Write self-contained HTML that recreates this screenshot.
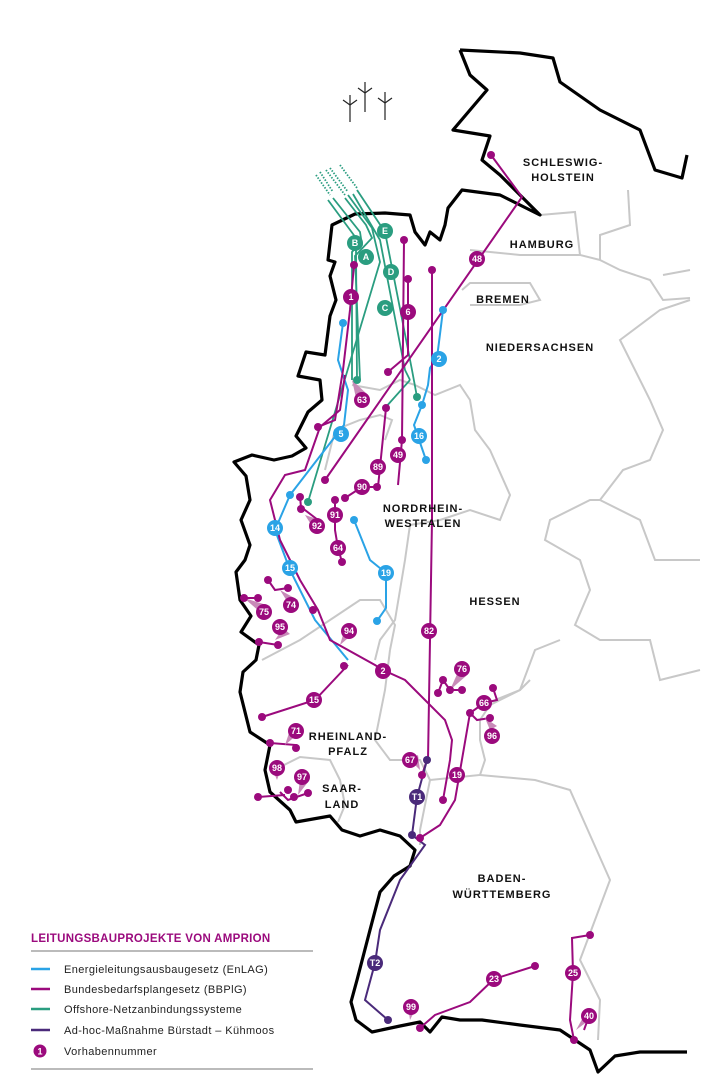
<!DOCTYPE html>
<html><head><meta charset="utf-8"><style>
html,body{margin:0;padding:0;background:#fff;width:713px;height:1090px;overflow:hidden}
svg{display:block}
.st{font:bold 11px "Liberation Sans",sans-serif;fill:#111;letter-spacing:1px;text-anchor:middle}
.b text{font:bold 9px "Liberation Sans",sans-serif;fill:#fff;text-anchor:middle}
.lg{font:11px "Liberation Sans",sans-serif;fill:#222;letter-spacing:0.4px}
</style></head><body>
<svg width="713" height="1090" viewBox="0 0 713 1090" xmlns="http://www.w3.org/2000/svg">
<!-- inner state borders -->
<g fill="none" stroke="#c8c8c8" stroke-width="2">
<polyline points="540,215 575,212 580,255 600,260 600,235 630,225 628,190"/>
<polyline points="470,250 520,255 580,255"/>
<polyline points="462,290 470,283 530,283 540,300 520,305 470,305"/>
<polyline points="600,260 620,270 650,280 663,300 690,298"/>
<polyline points="663,275 690,270"/>
<polyline points="690,300 660,310 620,340 650,400 663,430 650,460 623,470 600,500 590,500 550,520 545,540 580,560 590,590 575,625 600,640 650,640 660,680 700,670"/>
<polyline points="352,385 380,390 400,380 415,385 435,395 460,385 470,400 475,430 490,450 510,495 500,520 470,510 440,520 410,525 405,560 395,620 380,640 375,660"/>
<polyline points="600,500 640,520 655,560 700,560"/>
<polyline points="560,640 535,650 520,690 495,700"/>
<polyline points="325,470 335,430 360,420 380,415 392,420 385,440"/>
<polyline points="262,660 300,640 330,620 360,600 380,600 395,625 390,650"/>
<polyline points="390,650 385,690 380,715 375,740 390,760 420,760 430,780"/>
<polyline points="278,768 300,757 330,760 340,780 345,805 338,822"/>
<polyline points="430,780 480,775 485,760 480,740 480,720 490,705 520,690 530,680"/>
<polyline points="480,775 535,780 570,790 610,880 580,960 590,980 600,1000 598,1040"/>
<polyline points="430,780 420,830 420,845"/>
</g>
<!-- national border -->
<polyline fill="none" stroke="#000" stroke-width="3.2" stroke-linejoin="round" points="460,50 520,53 553,58 560,82 600,110 640,130 655,170 682,178 687,155"/>
<polyline fill="none" stroke="#000" stroke-width="3.2" stroke-linejoin="round" points="460,50 470,75 487,90 470,110 453,130 490,136 482,160 500,175 522,197 540,215 500,195 462,190 448,208 445,225 440,240 430,232 425,245 415,232 410,215 385,213 355,214 332,225 328,260 335,262 330,276 336,300 330,316 325,355 306,352 298,376 320,380 322,400 308,412 296,436 306,448 292,456 274,460 252,455 234,462 246,476 250,500 241,520 250,545 245,560 236,572 240,600 251,616 241,632 259,645 256,660 243,672 240,692 245,712 250,732 270,745 265,770 270,792 290,810 296,822 330,816 342,830 360,836 380,830 400,836 415,850 410,866 394,876 380,892 370,930 357,980 351,1002 356,1020 372,1032 400,1026 420,1022 430,1032 442,1017 460,1020 482,1020 520,1025 560,1030 590,1050 598,1072 615,1056 640,1052 662,1052 687,1052"/>
<!-- turbines -->
<g stroke="#222" stroke-width="1.2" fill="none">
<line x1="350" y1="105" x2="350" y2="122"/><line x1="350" y1="105" x2="343" y2="100"/><line x1="350" y1="105" x2="357" y2="100"/><line x1="350" y1="105" x2="350" y2="95"/>
<line x1="365" y1="93" x2="365" y2="112"/><line x1="365" y1="93" x2="358" y2="88"/><line x1="365" y1="93" x2="372" y2="88"/><line x1="365" y1="93" x2="365" y2="82"/>
<line x1="385" y1="103" x2="385" y2="120"/><line x1="385" y1="103" x2="378" y2="98"/><line x1="385" y1="103" x2="392" y2="98"/><line x1="385" y1="103" x2="385" y2="92"/>
</g>
<!-- green -->
<g fill="none" stroke="#2a9d80" stroke-width="1.8">
<g stroke-dasharray="1.5,1.5"><line x1="316" y1="175" x2="330" y2="195"/><line x1="320" y1="172" x2="333" y2="192"/><line x1="326" y1="170" x2="345" y2="195"/><line x1="330" y1="168" x2="348" y2="192"/><line x1="340" y1="165" x2="357" y2="188"/></g>
<polyline points="333,198 360,232 362,245 356,250 357,380"/>
<polyline points="328,200 356,238 360,243 352,252 352,380"/>
<polyline points="348,195 372,228 380,262 308,502"/>
<polyline points="345,198 366,225 372,238 355,256 360,380"/>
<polyline points="357,190 385,232 412,370 417,397"/>
<polyline points="353,194 380,240 405,370 410,380"/>
<polyline points="410,380 385,408"/>
</g>
<!-- blue -->
<g fill="none" stroke="#2aa3e6" stroke-width="2">
<polyline points="443,310 437,358 430,368 428,385 422,405 414,425 426,460"/>
<polyline points="343,323 338,360 348,390 344,425 290,495"/>
<polyline points="290,495 275,530 290,570 315,620 348,660"/>
<polyline points="354,520 370,560 386,573 386,608 377,621"/>
</g>
<!-- magenta -->
<g fill="none" stroke="#9b0a7d" stroke-width="2">
<polyline points="491,155 522,197 325,480"/>
<polyline points="432,270 432,520 428,760"/>
<polyline points="404,240 402,440 398,485"/>
<polyline points="408,279 408,355 388,372"/>
<polyline points="386,408 378,487"/>
<polyline points="354,265 350,310 343,370 335,420 318,427"/>
<polyline points="345,498 362,487 377,487"/>
<polyline points="300,497 301,507 318,520"/>
<polyline points="335,500 335,515 335,530 338,548 342,562"/>
<polyline points="345,375 340,410 320,427 305,470 285,475 270,500 280,540 300,580 318,610 330,640 375,665 383,670 405,680 445,720 452,740 450,760 443,800"/>
<polyline points="262,717 315,700 348,665"/>
<polyline points="470,713 455,800 440,825 420,838"/>
<polyline points="438,693 443,680 450,690 462,690"/>
<polyline points="493,688 497,700 484,703 470,713 477,720 490,718"/>
<polyline points="270,743 296,745 296,748"/>
<polyline points="280,792 288,800 308,793"/>
<polyline points="258,797 285,795"/>
<polyline points="244,598 258,598"/><polyline points="268,580 275,590 288,588"/>
<polyline points="259,642 278,645"/>
<polyline points="420,1028 435,1015 470,1002 494,979 535,966"/>
<polyline points="574,1040 570,1020 573,973 572,938 590,935"/>
<polyline points="589,1016 584,1030"/>
<polyline points="422,775 427,760"/>
</g>
<!-- dark purple -->
<polyline fill="none" stroke="#4a2a7a" stroke-width="2" points="427,760 417,797 412,835 425,845 400,880 380,930 375,963 365,1000 388,1020"/>
<!-- pointer triangles -->
<g fill="#c88ab8">
<polygon points="352,380 356,398 368,395"/><polygon points="305,515 312,526 320,520"/><polygon points="244,598 260,612 270,606"/>
<polygon points="280,590 290,606 298,600"/><polygon points="275,640 283,628 290,634"/><polygon points="340,645 345,628 355,632"/>
<polygon points="450,690 458,672 466,676"/><polygon points="485,718 490,730 497,726"/><polygon points="285,745 290,730 298,734"/>
<polygon points="277,780 272,768 282,766"/><polygon points="298,795 300,780 308,782"/><polygon points="420,770 410,760 418,755"/>
<polygon points="410,1020 408,1006 416,1008"/><polygon points="576,1030 585,1014 592,1018"/>
</g>
<!-- dots -->
<g fill="#9b0a7d">
<circle cx="491" cy="155" r="4"/><circle cx="432" cy="270" r="4"/><circle cx="404" cy="240" r="4"/><circle cx="408" cy="279" r="4"/><circle cx="388" cy="372" r="4"/><circle cx="386" cy="408" r="4"/><circle cx="354" cy="265" r="4"/><circle cx="318" cy="427" r="4"/><circle cx="325" cy="480" r="4"/><circle cx="345" cy="498" r="4"/><circle cx="377" cy="487" r="4"/><circle cx="300" cy="497" r="4"/><circle cx="301" cy="509" r="4"/><circle cx="335" cy="500" r="4"/><circle cx="342" cy="562" r="4"/><circle cx="313" cy="610" r="4"/><circle cx="262" cy="717" r="4"/><circle cx="344" cy="666" r="4"/><circle cx="443" cy="800" r="4"/><circle cx="438" cy="693" r="4"/><circle cx="443" cy="680" r="4"/><circle cx="450" cy="690" r="4"/><circle cx="462" cy="690" r="4"/><circle cx="493" cy="688" r="4"/><circle cx="470" cy="713" r="4"/><circle cx="490" cy="718" r="4"/><circle cx="270" cy="743" r="4"/><circle cx="296" cy="748" r="4"/><circle cx="288" cy="790" r="4"/><circle cx="294" cy="797" r="4"/><circle cx="308" cy="793" r="4"/><circle cx="258" cy="797" r="4"/><circle cx="244" cy="598" r="4"/><circle cx="258" cy="598" r="4"/><circle cx="268" cy="580" r="4"/><circle cx="288" cy="588" r="4"/><circle cx="259" cy="642" r="4"/><circle cx="278" cy="645" r="4"/><circle cx="420" cy="838" r="4"/><circle cx="422" cy="775" r="4"/><circle cx="535" cy="966" r="4"/><circle cx="590" cy="935" r="4"/><circle cx="574" cy="1040" r="4"/><circle cx="420" cy="1028" r="4"/><circle cx="402" cy="440" r="4"/>
</g>
<g fill="#2aa3e6"><circle cx="443" cy="310" r="4"/><circle cx="426" cy="460" r="4"/><circle cx="343" cy="323" r="4"/><circle cx="290" cy="495" r="4"/><circle cx="354" cy="520" r="4"/><circle cx="377" cy="621" r="4"/><circle cx="422" cy="405" r="4"/></g>
<g fill="#2a9d80"><circle cx="308" cy="502" r="4"/><circle cx="417" cy="397" r="4"/><circle cx="357" cy="380" r="4"/></g>
<g fill="#4a2a7a"><circle cx="412" cy="835" r="4"/><circle cx="388" cy="1020" r="4"/><circle cx="427" cy="760" r="4"/></g>
<!-- badges -->
<g class="b">
<g fill="#9b0a7d">
<circle cx="477" cy="259" r="8"/><circle cx="408" cy="312" r="8"/><circle cx="351" cy="297" r="8"/><circle cx="362" cy="400" r="8"/><circle cx="378" cy="467" r="8"/><circle cx="398" cy="455" r="8"/><circle cx="362" cy="487" r="8"/><circle cx="335" cy="515" r="8"/><circle cx="317" cy="526" r="8"/><circle cx="338" cy="548" r="8"/><circle cx="291" cy="605" r="8"/><circle cx="264" cy="612" r="8"/><circle cx="280" cy="627" r="8"/><circle cx="349" cy="631" r="8"/><circle cx="429" cy="631" r="8"/><circle cx="383" cy="671" r="8"/><circle cx="314" cy="700" r="8"/><circle cx="462" cy="669" r="8"/><circle cx="484" cy="703" r="8"/><circle cx="492" cy="736" r="8"/><circle cx="296" cy="731" r="8"/><circle cx="410" cy="760" r="8"/><circle cx="457" cy="775" r="8"/><circle cx="277" cy="768" r="8"/><circle cx="302" cy="777" r="8"/><circle cx="494" cy="979" r="8"/><circle cx="573" cy="973" r="8"/><circle cx="589" cy="1016" r="8"/><circle cx="411" cy="1007" r="8"/>
</g>
<g fill="#2aa3e6"><circle cx="439" cy="359" r="8"/><circle cx="419" cy="436" r="8"/><circle cx="341" cy="434" r="8"/><circle cx="275" cy="528" r="8"/><circle cx="290" cy="568" r="8"/><circle cx="386" cy="573" r="8"/></g>
<g fill="#2a9d80"><circle cx="385" cy="231" r="8"/><circle cx="355" cy="243" r="8"/><circle cx="366" cy="257" r="8"/><circle cx="391" cy="272" r="8"/><circle cx="385" cy="308" r="8"/></g>
<g fill="#4a2a7a"><circle cx="417" cy="797" r="8"/><circle cx="375" cy="963" r="8"/></g>
<text x="477" y="262">48</text><text x="408" y="315">6</text><text x="351" y="300">1</text><text x="362" y="403">63</text><text x="378" y="470">89</text><text x="398" y="458">49</text><text x="362" y="490">90</text><text x="335" y="518">91</text><text x="317" y="529">92</text><text x="338" y="551">64</text><text x="291" y="608">74</text><text x="264" y="615">75</text><text x="280" y="630">95</text><text x="349" y="634">94</text><text x="429" y="634">82</text><text x="383" y="674">2</text><text x="314" y="703">15</text><text x="462" y="672">76</text><text x="484" y="706">66</text><text x="492" y="739">96</text><text x="296" y="734">71</text><text x="410" y="763">67</text><text x="457" y="778">19</text><text x="277" y="771">98</text><text x="302" y="780">97</text><text x="494" y="982">23</text><text x="573" y="976">25</text><text x="589" y="1019">40</text><text x="411" y="1010">99</text>
<text x="439" y="362">2</text><text x="419" y="439">16</text><text x="341" y="437">5</text><text x="275" y="531">14</text><text x="290" y="571">15</text><text x="386" y="576">19</text>
<text x="385" y="234">E</text><text x="355" y="246">B</text><text x="366" y="260">A</text><text x="391" y="275">D</text><text x="385" y="311">C</text>
<text x="417" y="800">T1</text><text x="375" y="966">T2</text>
</g>
<!-- state labels -->
<text class="st" x="563" y="166">SCHLESWIG-</text><text class="st" x="563" y="181">HOLSTEIN</text>
<text class="st" x="542" y="248">HAMBURG</text><text class="st" x="503" y="303">BREMEN</text>
<text class="st" x="540" y="351">NIEDERSACHSEN</text>
<text class="st" x="423" y="512">NORDRHEIN-</text><text class="st" x="423" y="527">WESTFALEN</text>
<text class="st" x="495" y="605">HESSEN</text>
<text class="st" x="348" y="740">RHEINLAND-</text><text class="st" x="348" y="755">PFALZ</text>
<text class="st" x="342" y="792">SAAR-</text><text class="st" x="342" y="808">LAND</text>
<text class="st" x="502" y="882">BADEN-</text><text class="st" x="502" y="898">WÜRTTEMBERG</text>
<!-- legend -->
<text x="31" y="942" style="font:bold 11.5px 'Liberation Sans',sans-serif;fill:#9b0a7d;letter-spacing:0.3px">LEITUNGSBAUPROJEKTE VON AMPRION</text>
<line x1="31" y1="951" x2="313" y2="951" stroke="#777" stroke-width="1"/>
<line x1="31" y1="969" x2="50" y2="969" stroke="#2aa3e6" stroke-width="2.5"/>
<line x1="31" y1="989" x2="50" y2="989" stroke="#9b0a7d" stroke-width="2.5"/>
<line x1="31" y1="1009" x2="50" y2="1009" stroke="#2a9d80" stroke-width="2.5"/>
<line x1="31" y1="1030" x2="50" y2="1030" stroke="#4a2a7a" stroke-width="2.5"/>
<circle cx="40" cy="1051" r="6.5" fill="#9b0a7d"/><text x="40" y="1054.5" style="font:bold 9px 'Liberation Sans',sans-serif;fill:#fff;text-anchor:middle">1</text>
<text class="lg" x="64" y="973">Energieleitungsausbaugesetz (EnLAG)</text>
<text class="lg" x="64" y="993">Bundesbedarfsplangesetz (BBPlG)</text>
<text class="lg" x="64" y="1013">Offshore-Netzanbindungssysteme</text>
<text class="lg" x="64" y="1034">Ad-hoc-Maßnahme Bürstadt – Kühmoos</text>
<text class="lg" x="64" y="1055">Vorhabennummer</text>
<line x1="31" y1="1069" x2="313" y2="1069" stroke="#777" stroke-width="1"/>
</svg>
</body></html>
